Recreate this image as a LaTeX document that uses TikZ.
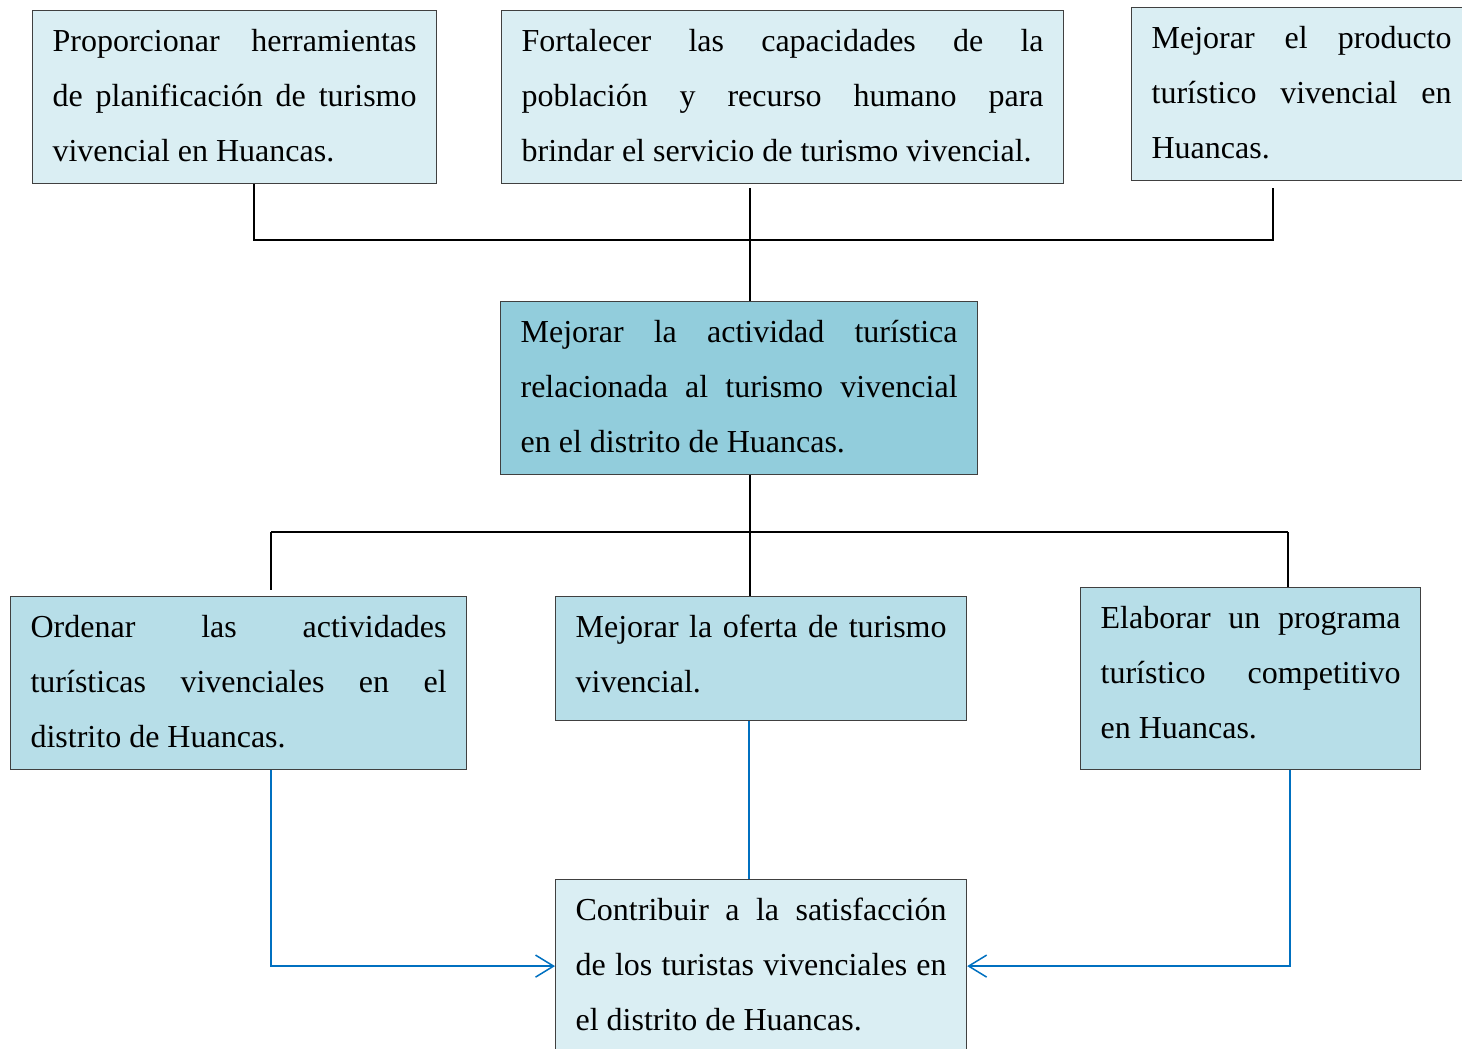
\documentclass[tikz,border=0pt]{standalone}
\usepackage{fontspec}
\setmainfont{Liberation Serif}
\usepackage{tikz}
\usetikzlibrary{arrows.meta, calc}
\hyphenpenalty=10000
\exhyphenpenalty=10000
\definecolor{paleblue}{RGB}{218,238,243}
\definecolor{midblue}{RGB}{183,222,232}
\definecolor{deepblue}{RGB}{146,205,220}
\definecolor{flowblue}{RGB}{0,112,192}
\tikzset{
  box/.style       = {rectangle, draw=black!75, line width=0.6pt, anchor=north west,
                      inner xsep=10pt, inner ysep=0pt, align=justify,
                      font=\fontsize{16}{27.5}\selectfont, lift=2pt},
  lift/.style      = {execute at end node={\rule[-#1]{0pt}{#1}}},
  endbox/.style    = {box, fill=paleblue},
  corebox/.style   = {box, fill=deepblue},
  meanbox/.style   = {box, fill=midblue},
  link/.style      = {line width=0.7pt, black},
  bluelink/.style  = {line width=0.75pt, flowblue},
  flow/.style      = {bluelink, -{Straight Barb[length=9pt, width=11pt, line width=0.75pt]}},
}
\begin{document}
\begin{tikzpicture}[x=0.5pt, y=-0.5pt]
  \useasboundingbox (0,0) rectangle (1462,1049);

  \node[endbox, text width=182pt, minimum height=86.5pt] (fin1) at (32,10)
    {Proporcionar herramientas\linebreak de planificación de turismo\linebreak vivencial en Huancas.};
  \node[endbox, text width=261pt, minimum height=86.5pt] (fin2) at (501,10)
    {Fortalecer las capacidades de la\linebreak población y recurso humano para\linebreak brindar el servicio de turismo vivencial.};
  \node[endbox, text width=150pt, minimum height=86.5pt] (fin3) at (1131,7)
    {Mejorar el producto\linebreak turístico vivencial en\linebreak Huancas.};

  \node[corebox, text width=218.5pt, minimum height=86.5pt] (central) at (500,301)
    {Mejorar la actividad turística\linebreak relacionada al turismo vivencial\linebreak en el distrito de Huancas.};

  \node[meanbox, text width=208pt, minimum height=86.5pt] (medio1) at (10,596)
    {Ordenar las actividades\linebreak turísticas vivenciales en el\linebreak distrito de Huancas.};
  \node[meanbox, text width=185.5pt, minimum height=62pt, lift=5pt] (medio2) at (555,596)
    {Mejorar la oferta de turismo\linebreak vivencial.};
  \node[meanbox, text width=150pt, minimum height=91pt, lift=6pt] (medio3) at (1080,587)
    {Elaborar un programa\linebreak turístico competitivo\linebreak en Huancas.};

  \node[endbox, text width=185.5pt, minimum height=86.5pt] (result) at (555,879)
    {Contribuir a la satisfacción\linebreak de los turistas vivenciales en\linebreak el distrito de Huancas.};

  \coordinate (jl) at (254,240);
  \coordinate (jc) at (750,240);
  \coordinate (jr) at (1273,240);
  \coordinate (kl) at (271,532);
  \coordinate (kr) at (1288,532);

  \draw[link] (fin1.south -| jl) -- (jl) -- (jr) -- ([yshift=-3.5pt]fin3.south -| jr);
  \draw[link] ([yshift=-2pt]fin2.south -| jc) -- (central.north -| jc);
  \draw[link] (central.south -| jc) -- (medio2.north -| jc);
  \draw[link] (kl) -- (kr);
  \draw[link] (kl) -- ([yshift=3pt]medio1.north -| kl);
  \draw[link] (kr) -- (medio3.north -| kr);

  \draw[flow] (medio1.south -| kl) |- (result.west);
  \draw[bluelink] ([xshift=-0.5pt]medio2.south -| jc) -- ([xshift=-0.5pt]result.north -| jc);
  \draw[flow] ([xshift=1pt]medio3.south -| kr) |- (result.east);
\end{tikzpicture}
\end{document}
